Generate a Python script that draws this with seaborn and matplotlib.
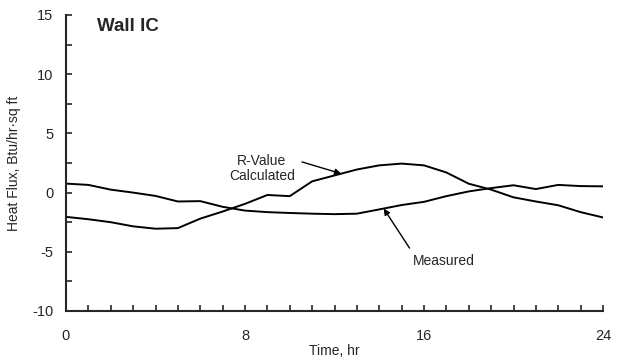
import numpy as np
import pandas as pd
import seaborn as sns
import matplotlib.pyplot as plt
from matplotlib.ticker import MultipleLocator

# hourly values
hours = list(range(25))
measured = [0.76, 0.65, 0.25, 0.0, -0.28, -0.75, -0.72, -1.2, -1.52, -1.65, -1.72, -1.78, -1.82,
            -1.78, -1.42, -1.05, -0.78, -0.3, 0.1, 0.38, 0.62, 0.3, 0.65, 0.55, 0.53]
calculated = [-2.05, -2.25, -2.5, -2.85, -3.05, -3.0, -2.2, -1.6, -0.95, -0.2, -0.3, 0.95, 1.45,
              1.95, 2.3, 2.45, 2.3, 1.7, 0.75, 0.25, -0.4, -0.75, -1.07, -1.65, -2.1]

x_ticks = [0, 8, 16, 24]
y_ticks = [-10, -5, 0, 5, 10, 15]

sns.set_style("ticks")
plt.rcParams['font.family'] = ['Liberation Sans', 'DejaVu Sans']
plt.rcParams['axes.unicode_minus'] = False

df = pd.DataFrame({
    "hour": hours * 2,
    "flux": measured + calculated,
    "series": ["Measured"] * len(hours) + ["R-Value Calculated"] * len(hours),
})

fig = plt.figure(figsize=(6.21, 3.62), dpi=100)
ax = fig.add_axes([66 / 621, 1 - 311 / 362, (603 - 66) / 621, (311 - 15) / 362])

sns.lineplot(data=df, x="hour", y="flux", units="series", estimator=None,
             color="black", linewidth=1.4, legend=False, ax=ax)

ax.set_xlim(0, 24)
ax.set_ylim(-10, 15)
ax.set_xticks(x_ticks)
ax.set_yticks(y_ticks)
ax.xaxis.set_minor_locator(MultipleLocator(1))
ax.yaxis.set_minor_locator(MultipleLocator(2.5))
ax.tick_params(which="both", direction="in", length=4, width=1.2, labelsize=10.5)
ax.tick_params(axis="x", which="major", pad=13)
ax.tick_params(axis="y", which="major", pad=9)
for s in ["top", "right"]:
    ax.spines[s].set_visible(False)
for s in ["left", "bottom"]:
    ax.spines[s].set_linewidth(1.5)

ax.set_xlabel("Time, hr", fontsize=10, labelpad=1)
ax.set_ylabel("Heat Flux, Btu/hr\u00b7sq ft", fontsize=10, labelpad=8)

ax.text(1.4, 14.0, "Wall IC", fontsize=13.5, fontweight="bold", va="center", ha="left")

ax.annotate("R-Value\nCalculated", xy=(12.3, 1.6), xytext=(8.75, 2.05),
            ha="center", va="center", fontsize=10, linespacing=1.05,
            arrowprops=dict(arrowstyle="-|>", color="black", lw=1.0,
                            shrinkA=3, shrinkB=0, mutation_scale=9,
                            relpos=(1.0, 0.8)))
ax.annotate("Measured", xy=(14.2, -1.35), xytext=(16.9, -5.75),
            ha="center", va="center", fontsize=10,
            arrowprops=dict(arrowstyle="-|>", color="black", lw=1.0,
                            shrinkA=2, shrinkB=0, mutation_scale=9,
                            relpos=(0.0, 1.0)))

fig.savefig("out.png", dpi=100)
